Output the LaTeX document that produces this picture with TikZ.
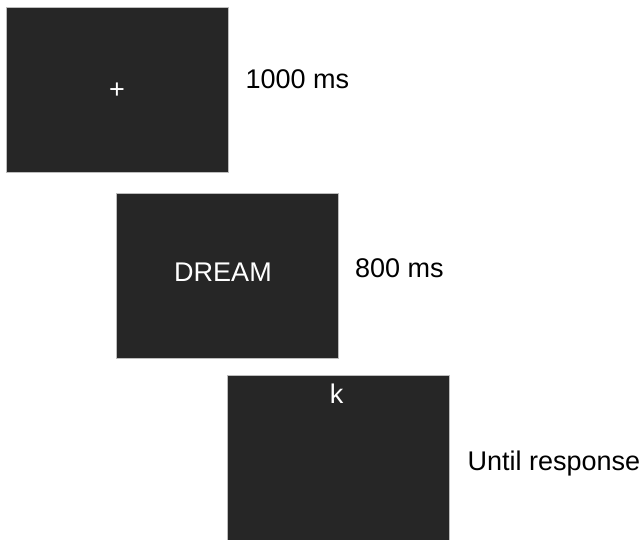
\documentclass[tikz,border=0pt]{standalone}
\usepackage{fontspec}
\setmainfont{Liberation Sans}
\definecolor{screenfill}{HTML}{262626}
\definecolor{screenline}{HTML}{BDBDBD}
\tikzset{
  screen/.style={draw=screenline,line width=0.6pt,fill=screenfill,
    minimum width=222pt,minimum height=165pt,inner sep=0pt,anchor=center},
  stim/.style={text=white,font=\fontsize{27}{31}\selectfont,inner sep=0pt},
  dur/.style={text=black,font=\fontsize{27}{31}\selectfont,inner sep=0pt,anchor=base west}
}
\begin{document}
\begin{tikzpicture}[x=1pt,y=-1pt]
  \useasboundingbox (0,0) rectangle (643,539);
  % three screens of one trial
  \node[screen] (fix)  at (116.8,89.8) {};
  \node[screen] (word) at (227.4,275.5) {};
  \node[screen] (resp) at (338,457.5) {};
  % what each screen shows
  \node[stim,anchor=center] (plus) at (117,91) {+};
  \node[stim,anchor=base] (dream) at (223,281.7) {DREAM};
  \node[stim,anchor=base] (key) at (336.5,403.3) {k};
  % durations
  \node[dur] (t1) at (245.5,88.3) {1000 ms};
  \node[dur] (t2) at (355,277.3) {800 ms};
  \node[dur] (t3) at (467.5,470) {Until response};
\end{tikzpicture}
\end{document}
